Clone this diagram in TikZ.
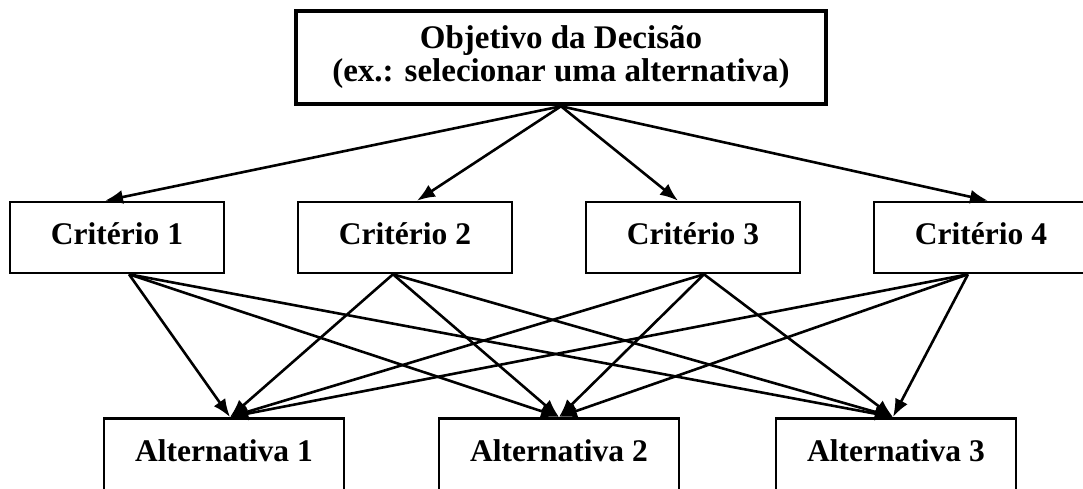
\documentclass[tikz,border=0pt]{standalone}
\usepackage{fontspec}
\setmainfont{Liberation Serif}
\usepackage{tikz}
\usetikzlibrary{arrows.meta}
\tikzset{arr/.style = {-{Latex[length=9pt, width=7pt]}, line width=1.3pt},
         txt/.style = {font=\bfseries\fontsize{15.75pt}{16.5pt}\selectfont},
         crit/.style = {txt, draw, line width=1.3pt, inner sep=0pt,
                        minimum width=107pt, minimum height=35.5pt,
                        text height=11pt, text depth=4.5pt},
         altbox/.style = {crit, minimum width=120pt, minimum height=40pt,
                          text depth=8pt, anchor=north}}

\begin{document}
\begin{tikzpicture}[x=0.5pt, y=-0.5pt]
    \useasboundingbox (0, 0) rectangle (1083, 488);
    \clip (0, 0) rectangle (1083, 488);
    \node [draw, line width=2.25pt, align=center, inner sep=0pt,
           font=\bfseries\fontsize{16.5pt}{16.5pt}\selectfont,
           minimum width=265pt, minimum height=46.5pt] (obj) at (561, 57.5)
          {Objetivo da Decisão\\(ex.: selecionar uma alternativa)};
    \node [crit] (crit1) at (117, 237.5) {Critério 1};
    \node [crit] (crit2) at (405, 237.5) {Critério 2};
    \node [crit] (crit3) at (693, 237.5) {Critério 3};
    \node [crit] (crit4) at (981, 237.5) {Critério 4};
    \node [altbox] (alt1) at (224, 417) {Alternativa 1};
    \node [altbox] (alt2) at (559, 417) {Alternativa 2};
    \node [altbox] (alt3) at (896, 417) {Alternativa 3};
    \foreach \c/\s in {crit1/-6pt, crit2/6pt, crit3/-7.5pt, crit4/3.5pt}
      \draw [arr] (obj.south) -- ([xshift=\s]\c.north);
    \foreach \c/\s in {crit1/6pt, crit2/-6pt, crit3/5.5pt, crit4/-6.5pt}
      \foreach \a/\t in {alt1/3pt, alt2/0pt, alt3/-1.5pt}
        \draw [arr] ([xshift=\s]\c.south) -- ([xshift=\t]\a.north);
  \end{tikzpicture}
\end{document}
